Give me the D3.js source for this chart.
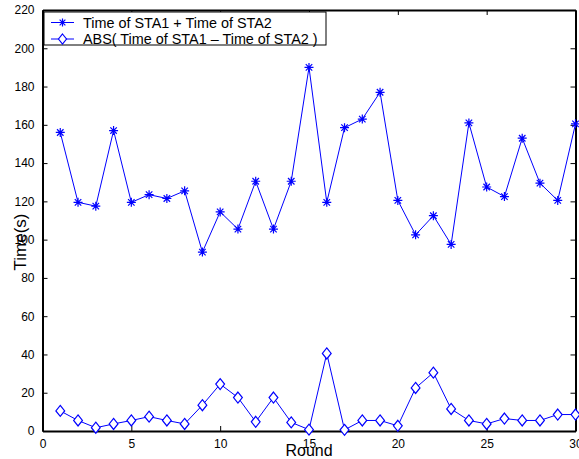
<!DOCTYPE html>
<html>
<head>
<meta charset="utf-8">
<script src="https://cdn.jsdelivr.net/npm/d3@7"></script>
<style>
  html, body { margin: 0; padding: 0; background: #fff; }
  svg { display: block; font-family: "Liberation Sans", Arial, sans-serif; }
</style>
</head>
<body>
<svg id="chart" width="579" height="459"></svg>
<script>
// Rounds 1..30
const rounds = d3.range(1, 31);
// Time of STA1 + Time of STA2
const sumTimes = [156, 119.5, 117.5, 157, 119.5, 123.5, 121.5, 125.5, 93.5, 114.5,
                  105.5, 130.5, 105.5, 130.5, 190, 119.5, 158.5, 163, 177, 120.5,
                  102.5, 112.5, 97.5, 161, 127.5, 122.5, 153, 129.5, 120.5, 160.5];
// ABS( Time of STA1 - Time of STA2 )
const absDiff = [10.5, 5.5, 1.7, 3.7, 5.5, 7.5, 5.5, 3.7, 13.5, 24.5,
                 17.5, 4.8, 17.5, 4.5, 0.7, 40.5, 0.6, 5.5, 5.5, 2.7,
                 22.5, 30.5, 11.5, 5.5, 3.7, 6.5, 5.5, 5.5, 8.6, 8.6];
const xTicks = [0, 5, 10, 15, 20, 25, 30];
const yTicks = d3.range(0, 221, 20);
const legendLabels = ["Time of STA1 + Time of STA2", "ABS( Time of STA1 \u2013 Time of STA2 )"];

const svg = d3.select("#chart");
const m = { left: 42.5, right: 575.5, top: 10, bottom: 431 };
const x = d3.scaleLinear().domain([0, 30]).range([m.left, m.right]);
const y = d3.scaleLinear().domain([0, 220]).range([m.bottom, m.top]);
const blue = "#0000ff";

// frame with inward ticks on all four sides
const tickLen = 5;
const axB = d3.axisBottom(x).tickValues(xTicks).tickSize(-tickLen).tickSizeOuter(0).tickPadding(8);
const axT = d3.axisTop(x).tickValues(xTicks).tickSize(-tickLen).tickSizeOuter(0).tickFormat("");
const axL = d3.axisLeft(y).tickValues(yTicks).tickSize(-tickLen).tickSizeOuter(0).tickPadding(8);
const axR = d3.axisRight(y).tickValues(yTicks).tickSize(-tickLen).tickSizeOuter(0).tickFormat("");

function styleAxis(g) {
  g.select(".domain").attr("stroke", "#000").attr("stroke-width", 2);
  g.selectAll(".tick line").attr("stroke", "#000").attr("stroke-width", 1);
  g.selectAll(".tick text").attr("fill", "#000").style("font-size", "12px")
    .style("font-family", "Liberation Sans, Arial, sans-serif");
}
svg.append("g").attr("transform", `translate(0,${m.bottom})`).call(axB).call(styleAxis);
svg.append("g").attr("transform", `translate(0,${m.top})`).call(axT).call(styleAxis);
svg.append("g").attr("transform", `translate(${m.left},0)`).call(axL).call(styleAxis);
svg.append("g").attr("transform", `translate(${m.right},0)`).call(axR).call(styleAxis);

// axis titles
svg.append("text").attr("x", 309).attr("y", 456)
  .attr("text-anchor", "middle").style("font-size", "16px").text("Round");
svg.append("text").attr("transform", "translate(26,242) rotate(-90)")
  .attr("text-anchor", "middle").style("font-size", "17px").text("Time(s)");

const line = d3.line().x((d, i) => x(rounds[i])).y(d => y(d));
const plot = svg.append("g");

// asterisk marker path
function star(cx, cy, r) {
  const a = r * 0.72;
  return `M${cx - r},${cy}H${cx + r}M${cx},${cy - r}V${cy + r}` +
         `M${cx - a},${cy - a}L${cx + a},${cy + a}M${cx - a},${cy + a}L${cx + a},${cy - a}`;
}
function diamond(cx, cy, r) {
  return `M${cx},${cy - r}L${cx + r * 0.8},${cy}L${cx},${cy + r}L${cx - r * 0.8},${cy}Z`;
}

plot.append("path").datum(sumTimes).attr("d", line)
  .attr("fill", "none").attr("stroke", blue).attr("stroke-width", 1);
plot.selectAll(".star").data(sumTimes).join("path").attr("class", "star")
  .attr("d", (d, i) => star(x(rounds[i]), y(d), 4.5))
  .attr("fill", "none").attr("stroke", blue).attr("stroke-width", 1.2);

plot.append("path").datum(absDiff).attr("d", line)
  .attr("fill", "none").attr("stroke", blue).attr("stroke-width", 1);
plot.selectAll(".dia").data(absDiff).join("path").attr("class", "dia")
  .attr("d", (d, i) => diamond(x(rounds[i]), y(d), 5.5))
  .attr("fill", "#fff").attr("stroke", blue).attr("stroke-width", 1.2);

// legend
const lg = svg.append("g");
lg.append("rect").attr("x", 44).attr("y", 12).attr("width", 282).attr("height", 33)
  .attr("fill", "#fff").attr("stroke", "#000").attr("stroke-width", 1);
const rowsY = [22.5, 39];
legendLabels.forEach((t, i) => {
  lg.append("line").attr("x1", 51).attr("x2", 74).attr("y1", rowsY[i]).attr("y2", rowsY[i])
    .attr("stroke", blue).attr("stroke-width", 1);
  lg.append("path").attr("d", i === 0 ? star(62.5, rowsY[i], 4) : diamond(62.5, rowsY[i], 5))
    .attr("fill", i === 0 ? "none" : "#fff").attr("stroke", blue).attr("stroke-width", 1.2);
  lg.append("text").attr("x", 83).attr("y", rowsY[i] + 5).style("font-size", "14.4px").text(t);
});
</script>
</body>
</html>
